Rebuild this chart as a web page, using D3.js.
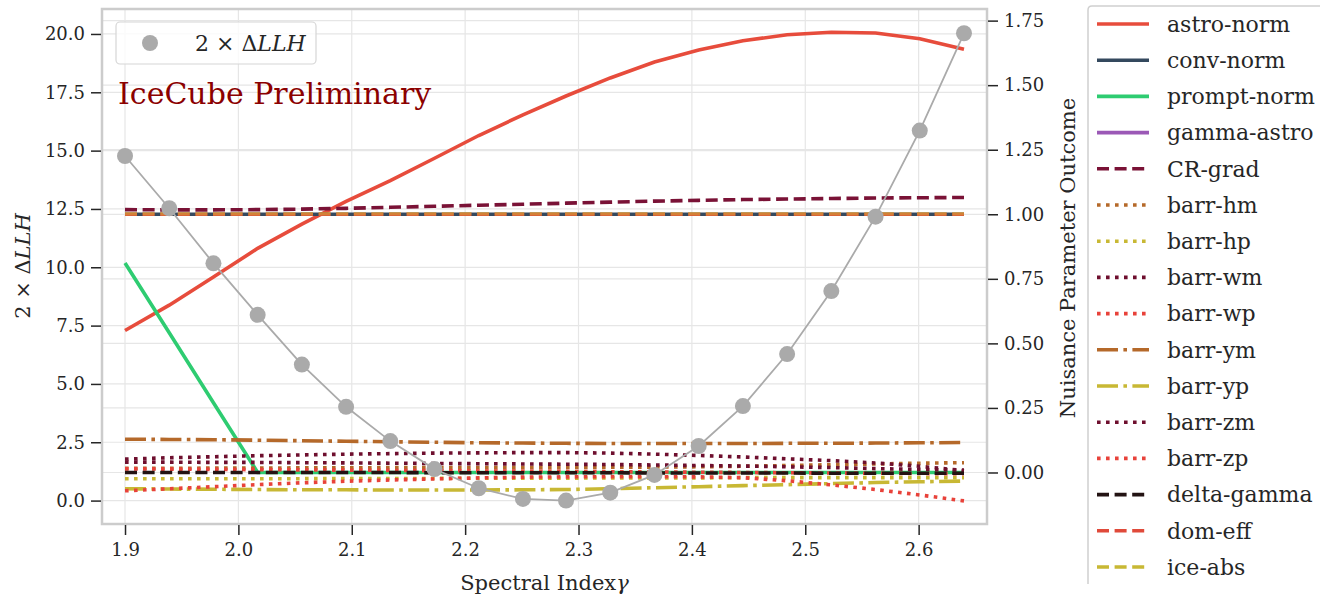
<!DOCTYPE html>
<html>
<head>
<meta charset="utf-8">
<title>Nuisance parameters vs spectral index</title>
<script src="https://cdn.jsdelivr.net/npm/d3@7"></script>
<style>
body { margin: 0; background: #fff; }
svg { display: block; font-family: "DejaVu Serif", serif; }
.tick text { fill: #262626; }
</style>
</head>
<body>
<script>
// scan points (spectral index)
var gammaVals = [1.9, 1.939, 1.978, 2.017, 2.056, 2.095, 2.134, 2.173, 2.212, 2.251,
                 2.289, 2.328, 2.367, 2.406, 2.445, 2.484, 2.523, 2.562, 2.601, 2.64];

// 2 x delta LLH (left axis)
var llh = [14.77, 12.53, 10.17, 7.96, 5.83, 4.02, 2.55, 1.35, 0.53, 0.07,
           0.0, 0.34, 1.10, 2.34, 4.05, 6.28, 8.98, 12.17, 15.86, 20.03];

// nuisance parameter outcomes (right axis)
var astroNorm = [0.550, 0.648, 0.757, 0.868, 0.962, 1.050, 1.130, 1.217, 1.305, 1.385,
                 1.458, 1.528, 1.590, 1.636, 1.672, 1.695, 1.705, 1.702, 1.680, 1.639];
var convNorm = [1.0, 1.0, 1.0, 1.0, 1.0, 1.0, 1.0, 1.0, 1.0, 1.0,
                1.0, 1.0, 1.0, 1.0, 1.0, 1.0, 1.0, 1.0, 1.0, 1.0];
var promptNorm = [0.811, 0.541, 0.270, 0.0, 0.0, 0.0, 0.0, 0.0, 0.0, 0.0,
                  0.0, 0.0, 0.0, 0.0, 0.0, 0.0, 0.0, 0.0, 0.0, 0.0];
var gammaAstro = [null, null, null, null, null, null, null, null, null, null,
                  null, null, null, null, null, null, null, null, null, null];
var crGrad = [1.018, 1.017, 1.017, 1.018, 1.020, 1.023, 1.027, 1.031, 1.035, 1.039,
              1.043, 1.047, 1.051, 1.054, 1.057, 1.059, 1.061, 1.063, 1.064, 1.065];
var barrHm = [0.016, 0.016, 0.017, 0.017, 0.018, 0.018, 0.019, 0.019, 0.019, 0.019,
              0.019, 0.020, 0.021, 0.022, 0.024, 0.027, 0.030, 0.033, 0.036, 0.038];
var barrHp = [-0.024, -0.024, -0.024, -0.024, -0.024, -0.023, -0.023, -0.023, -0.022, -0.022,
              -0.022, -0.021, -0.021, -0.021, -0.020, -0.020, -0.020, -0.020, -0.020, -0.020];
var barrWm = [0.040, 0.040, 0.039, 0.039, 0.038, 0.037, 0.036, 0.035, 0.034, 0.033,
              0.032, 0.031, 0.029, 0.027, 0.025, 0.022, 0.019, 0.015, 0.012, 0.009];
var barrWp = [0.014, 0.013, 0.012, 0.011, 0.010, 0.009, 0.008, 0.007, 0.006, 0.005,
              0.004, 0.003, 0.002, 0.001, 0.000, -0.001, -0.002, -0.003, -0.004, -0.005];
var barrYm = [0.129, 0.128, 0.127, 0.125, 0.123, 0.121, 0.119, 0.117, 0.115, 0.114,
              0.113, 0.112, 0.112, 0.112, 0.112, 0.113, 0.113, 0.114, 0.115, 0.116];
var barrYp = [-0.063, -0.064, -0.065, -0.066, -0.067, -0.067, -0.068, -0.068, -0.068, -0.067,
              -0.066, -0.063, -0.059, -0.055, -0.051, -0.047, -0.043, -0.039, -0.036, -0.033];
var barrZm = [0.052, 0.057, 0.061, 0.065, 0.068, 0.071, 0.073, 0.075, 0.076, 0.077,
              0.077, 0.075, 0.071, 0.066, 0.060, 0.053, 0.046, 0.037, 0.024, 0.007];
var barrZp = [-0.071, -0.063, -0.055, -0.047, -0.040, -0.034, -0.029, -0.025, -0.021, -0.018,
              -0.017, -0.016, -0.016, -0.017, -0.020, -0.032, -0.048, -0.066, -0.087, -0.110];
var deltaGamma = [0.0, 0.0, 0.0, 0.0, 0.0, 0.0, 0.0, -0.001, -0.001, -0.001,
                  -0.001, -0.001, -0.002, -0.002, -0.002, -0.002, -0.003, -0.003, -0.003, -0.003];
var domEff = [1.0, 1.0, 1.0, 1.0, 1.0, 1.0, 1.0, 1.0, 1.0, 1.0,
              1.0, 1.0, 1.0, 1.0, 1.0, 1.0, 1.0, 1.0, 1.0, 1.0];
var iceAbs = [1.002, 1.002, 1.002, 1.002, 1.002, 1.002, 1.002, 1.002, 1.002, 1.002,
              1.002, 1.002, 1.002, 1.002, 1.002, 1.002, 1.002, 1.002, 1.002, 1.002];

var seriesNames = ["astro-norm", "conv-norm", "prompt-norm", "gamma-astro", "CR-grad",
                   "barr-hm", "barr-hp", "barr-wm", "barr-wp", "barr-ym", "barr-yp",
                   "barr-zm", "barr-zp", "delta-gamma", "dom-eff", "ice-abs"];
var seriesValues = [astroNorm, convNorm, promptNorm, gammaAstro, crGrad,
                    barrHm, barrHp, barrWm, barrWp, barrYm, barrYp,
                    barrZm, barrZp, deltaGamma, domEff, iceAbs];

// tick labels
var xTicks = [1.9, 2.0, 2.1, 2.2, 2.3, 2.4, 2.5, 2.6];
var leftTicks = [0.0, 2.5, 5.0, 7.5, 10.0, 12.5, 15.0, 17.5, 20.0];
var rightTicks = [0.0, 0.25, 0.5, 0.75, 1.0, 1.25, 1.5, 1.75];

// styles
var colors = ["#e74c3c", "#34495e", "#2ecc71", "#9b59b6", "#7a1236",
              "#b5692a", "#c8b834", "#6e0f2e", "#e8423a", "#b5692a", "#c8b834",
              "#6e0f2e", "#e8423a", "#231313", "#e04a3a", "#c8b834"];
var DASH = "12,5.6", DOT = "3.6,5.4", DASHDOT = "21,5.4,3.6,5.4";
var dashes = ["", "", "", "", DASH,
              DOT, DOT, DOT, DOT, DASHDOT, DASHDOT,
              DOT, DOT, DASH, DASH, DASH];
var LW = 3.6;

var W = 1320, H = 599;
// plot frame (named to avoid clashing with window.top)
var pL = 102, pR = 987, pT = 9, pB = 524;

var svg = d3.select("body").append("svg").attr("width", W).attr("height", H);

var x = d3.scaleLinear().domain([1.8797, 2.6603]).range([pL, pR]);
var yL = d3.scaleLinear().domain([-1.0035, 21.07]).range([pB, pT]);
var yR = d3.scaleLinear().domain([-0.1995, 1.795]).range([pB, pT]);

// grid
var grid = svg.append("g").attr("stroke", "#e6e6e6").attr("stroke-width", 1.2);
grid.selectAll(".gx").data(xTicks).enter().append("line")
  .attr("x1", d => x(d)).attr("x2", d => x(d)).attr("y1", pT).attr("y2", pB);
grid.selectAll(".gl").data(leftTicks).enter().append("line")
  .attr("x1", pL).attr("x2", pR).attr("y1", d => yL(d)).attr("y2", d => yL(d));
grid.selectAll(".gr").data(rightTicks).enter().append("line")
  .attr("x1", pL).attr("x2", pR).attr("y1", d => yR(d)).attr("y2", d => yR(d));

svg.append("clipPath").attr("id", "clip").append("rect")
  .attr("x", pL).attr("y", pT).attr("width", pR - pL).attr("height", pB - pT);

var plot = svg.append("g").attr("clip-path", "url(#clip)");

// nuisance lines
var line = d3.line()
  .defined(d => d[1] != null)
  .x(d => x(d[0]))
  .y(d => yR(d[1]));

seriesValues.forEach(function(vals, i) {
  var pts = gammaVals.map((g, j) => [g, vals[j]]);
  plot.append("path")
    .datum(pts)
    .attr("d", line)
    .attr("fill", "none")
    .attr("stroke", colors[i])
    .attr("stroke-width", LW)
    .attr("stroke-dasharray", dashes[i] || null)
    .attr("opacity", i == 15 ? 0.5 : 1);
});

// 2 x delta LLH
var llhLine = d3.line().x(d => x(d[0])).y(d => yL(d[1]));
var llhPts = gammaVals.map((g, j) => [g, llh[j]]);
plot.append("path").datum(llhPts).attr("d", llhLine)
  .attr("fill", "none").attr("stroke", "#aaaaaa").attr("stroke-width", 1.8);
plot.selectAll(".dot").data(llhPts).enter().append("circle")
  .attr("cx", d => x(d[0])).attr("cy", d => yL(d[1])).attr("r", 8)
  .attr("fill", "#aaaaaa");

// frame
svg.append("rect").attr("x", pL).attr("y", pT)
  .attr("width", pR - pL).attr("height", pB - pT)
  .attr("fill", "none").attr("stroke", "#cccccc").attr("stroke-width", 2.5);

// axes
function styleAxis(g) {
  g.select(".domain").remove();
  g.selectAll(".tick line").attr("stroke", "#262626").attr("stroke-width", 1.5);
  g.selectAll(".tick text").attr("font-size", 18).attr("font-family", "DejaVu Serif");
}
svg.append("g").attr("transform", "translate(0," + (pB + 1) + ")")
  .call(d3.axisBottom(x).tickValues(xTicks).tickFormat(d3.format(".1f")).tickSize(10).tickPadding(8))
  .call(styleAxis);
svg.append("g").attr("transform", "translate(" + (pL - 1) + ",0)")
  .call(d3.axisLeft(yL).tickValues(leftTicks).tickFormat(d3.format(".1f")).tickSize(10).tickPadding(6))
  .call(styleAxis);
svg.append("g").attr("transform", "translate(" + (pR + 1) + ",0)")
  .call(d3.axisRight(yR).tickValues(rightTicks).tickFormat(d3.format(".2f")).tickSize(10).tickPadding(6))
  .call(styleAxis);

// axis labels
var xl = svg.append("text").attr("x", (pL + pR) / 2).attr("y", 590)
  .attr("text-anchor", "middle").attr("font-size", 21).attr("fill", "#262626");
xl.append("tspan").text("Spectral Index");
xl.append("tspan").attr("font-style", "italic").text("γ");

var yl = svg.append("text").attr("transform", "translate(30,266) rotate(-90)")
  .attr("text-anchor", "middle").attr("font-size", 21).attr("fill", "#262626");
yl.append("tspan").text("2 × Δ");
yl.append("tspan").attr("font-style", "italic").text("LLH");

svg.append("text").attr("transform", "translate(1075,258) rotate(-90)")
  .attr("text-anchor", "middle").attr("font-size", 21).attr("fill", "#262626")
  .text("Nuisance Parameter Outcome");

// inner legend
svg.append("rect").attr("x", 116).attr("y", 22).attr("width", 200).attr("height", 42).attr("rx", 4)
  .attr("fill", "#fff").attr("fill-opacity", 0.8).attr("stroke", "#d6d6d6").attr("stroke-width", 1.2);
svg.append("circle").attr("cx", 150).attr("cy", 43).attr("r", 8).attr("fill", "#aaaaaa");
var lt = svg.append("text").attr("x", 195).attr("y", 51).attr("font-size", 22).attr("fill", "#262626");
lt.append("tspan").text("2 × Δ");
lt.append("tspan").attr("font-style", "italic").text("LLH");

svg.append("text").attr("x", 118).attr("y", 104).attr("font-size", 30).attr("fill", "#8b0000")
  .text("IceCube Preliminary");

// outer legend
svg.append("path").attr("d", "M1088,584 V10 Q1088,6 1092,6 H1320")
  .attr("fill", "none").attr("stroke", "#d0d0d0").attr("stroke-width", 1.5);
var leg = svg.append("g");
seriesNames.forEach(function(name, i) {
  var cy = 24 + i * 36.2;
  leg.append("line").attr("x1", 1097).attr("x2", 1149).attr("y1", cy).attr("y2", cy)
    .attr("stroke", colors[i]).attr("stroke-width", LW)
    .attr("stroke-dasharray", dashes[i] || null);
  leg.append("text").attr("x", 1167).attr("y", cy).attr("dy", "0.35em")
    .attr("font-size", 22).attr("fill", "#262626").text(name);
});
</script>
</body>
</html>
